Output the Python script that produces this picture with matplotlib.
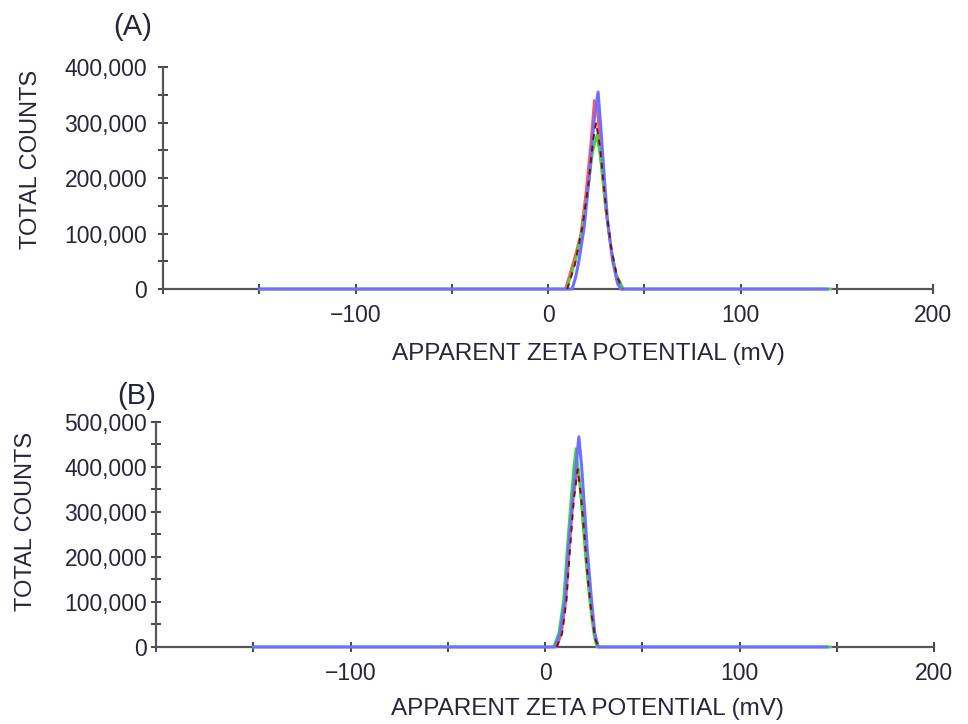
import matplotlib
matplotlib.use("Agg")
import matplotlib.pyplot as plt
from matplotlib.ticker import MultipleLocator, FuncFormatter

plt.rcParams["font.family"] = ["Liberation Sans", "DejaVu Sans"]

TEXT = "#26263a"

# --- data (mV, counts) ---
# panel A
red_a_x = [8.9, 10.9, 14.4, 17.0, 19.6, 22.2, 24.0, 25.7, 27.4, 30.0, 32.6, 35.3, 38.7]
red_a_y = [0, 22e3, 64e3, 100e3, 172e3, 263e3, 340e3, 322e3, 232e3, 142e3, 76e3, 28e3, 0]
green_a_x = [-150, 9.5, 11.8, 14.4, 17.9, 20.5, 23.1, 25.4, 27.4, 30.0, 32.6, 35.3, 39.1, 147]
green_a_y = [0, 0, 22e3, 52e3, 112e3, 172e3, 245e3, 278e3, 232e3, 142e3, 76e3, 28e3, 0, 0]
blue_a_x = [-150, 12.5, 14.4, 16.1, 18.8, 21.4, 24.0, 26.0, 27.4, 29.2, 30.9, 33.5, 36.1, 37.8, 145]
blue_a_y = [0, 0, 22e3, 52e3, 112e3, 202e3, 305e3, 355e3, 292e3, 202e3, 124e3, 52e3, 10e3, 0, 0]
dash_a_x = [10.0, 14.0, 18.0, 21.0, 23.5, 25.0, 27.0, 30.0, 33.0, 36.0, 39.0]
dash_a_y = [0, 45e3, 115e3, 190e3, 270e3, 300e3, 255e3, 150e3, 70e3, 20e3, 0]

# panel B
red_b_x = [6.0, 8.5, 10.8, 12.5, 14.5, 16.8, 18.5, 20.2, 22.0, 24.0, 26.0, 27.5]
red_b_y = [0, 30e3, 104e3, 216e3, 327e3, 401e3, 340e3, 250e3, 150e3, 70e3, 15e3, 0]
green_b_x = [-150, 4.3, 7.0, 9.5, 11.3, 13.3, 14.8, 15.9, 17.5, 19.0, 20.8, 23.0, 25.0, 26.5, 147]
green_b_y = [0, 0, 30e3, 104e3, 216e3, 327e3, 400e3, 441e3, 380e3, 300e3, 200e3, 100e3, 30e3, 0, 0]
blue_b_x = [-150, 5.1, 7.7, 10.3, 12.0, 14.2, 15.9, 17.4, 18.8, 20.0, 21.7, 23.9, 25.6, 27.4, 145]
blue_b_y = [0, 0, 30e3, 104e3, 216e3, 327e3, 401e3, 467e3, 401e3, 327e3, 216e3, 104e3, 30e3, 0, 0]
dash_b_x = [6.0, 8.8, 11.0, 12.8, 14.8, 16.8, 18.6, 20.3, 22.0, 24.0, 26.0, 27.5]
dash_b_y = [0, 30e3, 104e3, 216e3, 327e3, 395e3, 330e3, 245e3, 150e3, 70e3, 15e3, 0]

x_labels = [-100, 0, 100, 200]


def style_axes(ax, ymax, ypad):
    ax.set_xlim(-200, 200)
    ax.set_ylim(0, ymax)
    for s in ["top", "right"]:
        ax.spines[s].set_visible(False)
    for s in ["left", "bottom"]:
        ax.spines[s].set_color("#555555")
        ax.spines[s].set_linewidth(1.6)
    ax.xaxis.set_major_locator(MultipleLocator(50))
    ax.yaxis.set_major_locator(MultipleLocator(50000))
    ax.xaxis.set_major_formatter(FuncFormatter(
        lambda v, p: f"{int(v)}".replace("-", "\u2212") if int(round(v)) in x_labels else ""))
    ax.yaxis.set_major_formatter(FuncFormatter(
        lambda v, p: f"{int(v):,}" if int(round(v)) % 100000 == 0 else ""))
    ax.tick_params(direction="inout", length=7, width=1.4, color="#444444",
                   labelsize=16.5, labelcolor=TEXT)
    ax.tick_params(axis="x", pad=7)
    ax.tick_params(axis="y", pad=ypad)
    ax.set_xlabel("APPARENT ZETA POTENTIAL (mV)", fontsize=17.5, color=TEXT)
    ax.set_ylabel("TOTAL COUNTS", fontsize=17, color=TEXT)


def draw(ax, red, green, blue, dash):
    ax.plot(*red, color="#ff5a5a", lw=1.8, zorder=3, clip_on=False)
    ax.plot(*green, color="#3ad83a", lw=1.8, zorder=3.5, clip_on=False)
    ax.plot(*blue, color="#6f6fff", lw=2.2, zorder=4, clip_on=False)
    ax.plot(*dash, color="#7a1010", lw=1.4, ls=(0, (3, 3)), zorder=5, clip_on=False)


fig = plt.figure(figsize=(9.68, 7.24), dpi=100)
ax_a = fig.add_axes([0.1684, 0.6008, 0.7955, 0.3066])
ax_b = fig.add_axes([0.1612, 0.1064, 0.8037, 0.3108])

draw(ax_a, (red_a_x, red_a_y), (green_a_x, green_a_y), (blue_a_x, blue_a_y), (dash_a_x, dash_a_y))
draw(ax_b, (red_b_x, red_b_y), (green_b_x, green_b_y), (blue_b_x, blue_b_y), (dash_b_x, dash_b_y))

style_axes(ax_a, 400000, 8)
style_axes(ax_b, 500000, 3)

ax_a.yaxis.set_label_coords(-0.157, 0.585)
ax_b.yaxis.set_label_coords(-0.153, 0.556)
ax_a.xaxis.set_label_coords(0.552, -0.243)
ax_b.xaxis.set_label_coords(0.555, -0.227)

fig.text(133 / 968, 1 - 27 / 724, "(A)", fontsize=21, color=TEXT, ha="center", va="center")
fig.text(137 / 968, 1 - 396 / 724, "(B)", fontsize=21, color=TEXT, ha="center", va="center")

fig.savefig("out.png", dpi=100)
